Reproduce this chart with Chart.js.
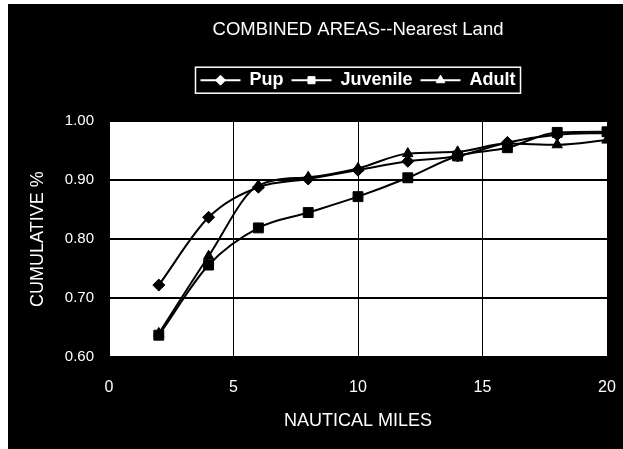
<!DOCTYPE html>
<html>
<head>
<meta charset="utf-8">
<title>COMBINED AREAS--Nearest Land</title>
<script src="https://cdn.jsdelivr.net/npm/chart.js@4/dist/chart.umd.min.js"></script>
<style>
  html, body { margin: 0; padding: 0; background: #ffffff; }
  canvas { display: block; }
</style>
</head>
<body>
<canvas id="chart" width="623" height="449"></canvas>
<script>
// Distance to nearest land (nautical miles) and cumulative share of sightings
const miles = [2, 4, 6, 8, 10, 12, 14, 16, 18, 20];
const pup = [0.722, 0.837, 0.888, 0.902, 0.917, 0.932, 0.941, 0.964, 0.977, 0.980];
const juvenile = [0.637, 0.756, 0.819, 0.845, 0.872, 0.904, 0.941, 0.955, 0.981, 0.982];
const adult = [0.640, 0.771, 0.891, 0.905, 0.920, 0.945, 0.948, 0.962, 0.960, 0.968];

const seriesNames = ['Pup', 'Juvenile', 'Adult'];
const seriesMarkers = ['rectRot', 'rect', 'triangle'];
const xTicks = [0, 5, 10, 15, 20];
const yTicks = [0.60, 0.70, 0.80, 0.90, 1.00];

const FONT = '"Liberation Sans", Arial, Helvetica, sans-serif';

function toPoints(values) {
  return miles.map((m, i) => ({ x: m, y: values[i] }));
}

const seriesValues = [pup, juvenile, adult];
const markerRadius = [6, 7, 6];

const datasets = seriesNames.map((name, i) => ({
  label: name,
  data: toPoints(seriesValues[i]),
  xAxisID: 'x',
  yAxisID: 'y',
  borderColor: '#000000',
  backgroundColor: '#000000',
  borderWidth: 2,
  pointStyle: seriesMarkers[i],
  pointRadius: markerRadius[i],
  pointBorderWidth: 1,
  pointBackgroundColor: '#000000',
  pointBorderColor: '#000000',
  cubicInterpolationMode: 'monotone',
  fill: false
}));

// Black frame with a white plot area
const framePlugin = {
  id: 'frame',
  beforeDraw(chart) {
    const { ctx, chartArea } = chart;
    ctx.save();
    ctx.fillStyle = '#ffffff';
    ctx.fillRect(0, 0, chart.width, chart.height);
    ctx.fillStyle = '#000000';
    ctx.fillRect(8, 4, chart.width - 8, chart.height - 4);
    ctx.fillStyle = '#ffffff';
    ctx.fillRect(chartArea.left, chartArea.top, chartArea.right - chartArea.left, chartArea.bottom - chartArea.top);
    ctx.restore();
  }
};

// Outline round the legend and a marker on each legend line sample
const legendDecor = {
  id: 'legendDecor',
  afterDraw(chart) {
    const legend = chart.legend;
    if (!legend || !legend.legendHitBoxes || !legend.legendHitBoxes.length) return;
    const boxes = legend.legendHitBoxes;
    const sampleWidth = chart.options.plugins.legend.labels.pointStyleWidth;
    const { ctx } = chart;
    ctx.save();
    ctx.fillStyle = '#ffffff';
    ctx.strokeStyle = '#ffffff';
    boxes.forEach((hb, i) => {
      const cx = hb.left + sampleWidth / 2;
      const cy = hb.top + hb.height / 2;
      Chart.helpers.drawPoint(ctx, {
        pointStyle: seriesMarkers[i],
        radius: 5,
        rotation: 0,
        borderWidth: 1
      }, cx, cy);
    });
    const first = boxes[0];
    const last = boxes[boxes.length - 1];
    const left = first.left - 5;
    const right = last.left + last.width + 5;
    const top = first.top - 4;
    const height = first.height + 8;
    ctx.lineWidth = 1.5;
    ctx.strokeRect(left, top, right - left, height);
    ctx.restore();
  }
};

new Chart(document.getElementById('chart'), {
  type: 'line',
  data: { datasets },
  plugins: [framePlugin, legendDecor],
  options: {
    responsive: false,
    animation: false,
    devicePixelRatio: 1,
    layout: { padding: { top: 4, left: 9, right: 16, bottom: 0 } },
    plugins: {
      tooltip: { enabled: false },
      title: {
        display: true,
        fullSize: false,
        text: 'COMBINED AREAS--Nearest Land',
        color: '#ffffff',
        font: { family: FONT, size: 18.5, weight: 'normal' },
        padding: { top: 15, bottom: 22 }
      },
      legend: {
        display: true,
        position: 'top',
        fullSize: false,
        labels: {
          color: '#ffffff',
          font: { family: FONT, size: 18, weight: 'bold' },
          usePointStyle: true,
          pointStyleWidth: 40,
          padding: 8,
          generateLabels(chart) {
            return chart.data.datasets.map((ds, i) => ({
              text: ds.label,
              fillStyle: '#ffffff',
              strokeStyle: '#ffffff',
              fontColor: '#ffffff',
              lineWidth: 2,
              pointStyle: 'line',
              hidden: false,
              datasetIndex: i
            }));
          }
        }
      }
    },
    scales: {
      x: {
        type: 'linear',
        position: 'bottom',
        min: 0,
        max: 20,
        afterBuildTicks(scale) { scale.ticks = xTicks.map(v => ({ value: v })); },
        afterFit(scale) {
          scale.height = 92;
          scale.paddingLeft = 0;
          scale.paddingRight = 0;
        },
        ticks: {
          color: '#ffffff',
          font: { family: FONT, size: 16 },
          padding: 21,
          maxRotation: 0,
          callback: v => String(v)
        },
        grid: { color: '#000000', lineWidth: 1, drawTicks: false },
        border: { display: false },
        title: {
          display: true,
          text: 'NAUTICAL MILES',
          color: '#ffffff',
          font: { family: FONT, size: 18 },
          padding: { top: 0, bottom: 17 }
        }
      },
      xTop: {
        type: 'linear',
        position: 'top',
        min: 0,
        max: 20,
        display: true,
        afterFit(scale) { scale.height = 22; },
        ticks: { display: false },
        grid: { display: false, drawTicks: false },
        border: { display: false }
      },
      y: {
        type: 'linear',
        position: 'left',
        min: 0.6,
        max: 1.0,
        afterBuildTicks(scale) { scale.ticks = yTicks.map(v => ({ value: v })); },
        afterFit(scale) { scale.width = 100; },
        ticks: {
          color: '#ffffff',
          font: { family: FONT, size: 15 },
          padding: 11,
          callback: v => Number(v).toFixed(2)
        },
        grid: { color: '#000000', lineWidth: 2, tickLength: 4 },
        border: { display: false },
        title: {
          display: true,
          text: 'CUMULATIVE %',
          color: '#ffffff',
          font: { family: FONT, size: 18 },
          padding: { top: 18.5, bottom: 0 }
        }
      }
    }
  }
});
</script>
</body>
</html>
